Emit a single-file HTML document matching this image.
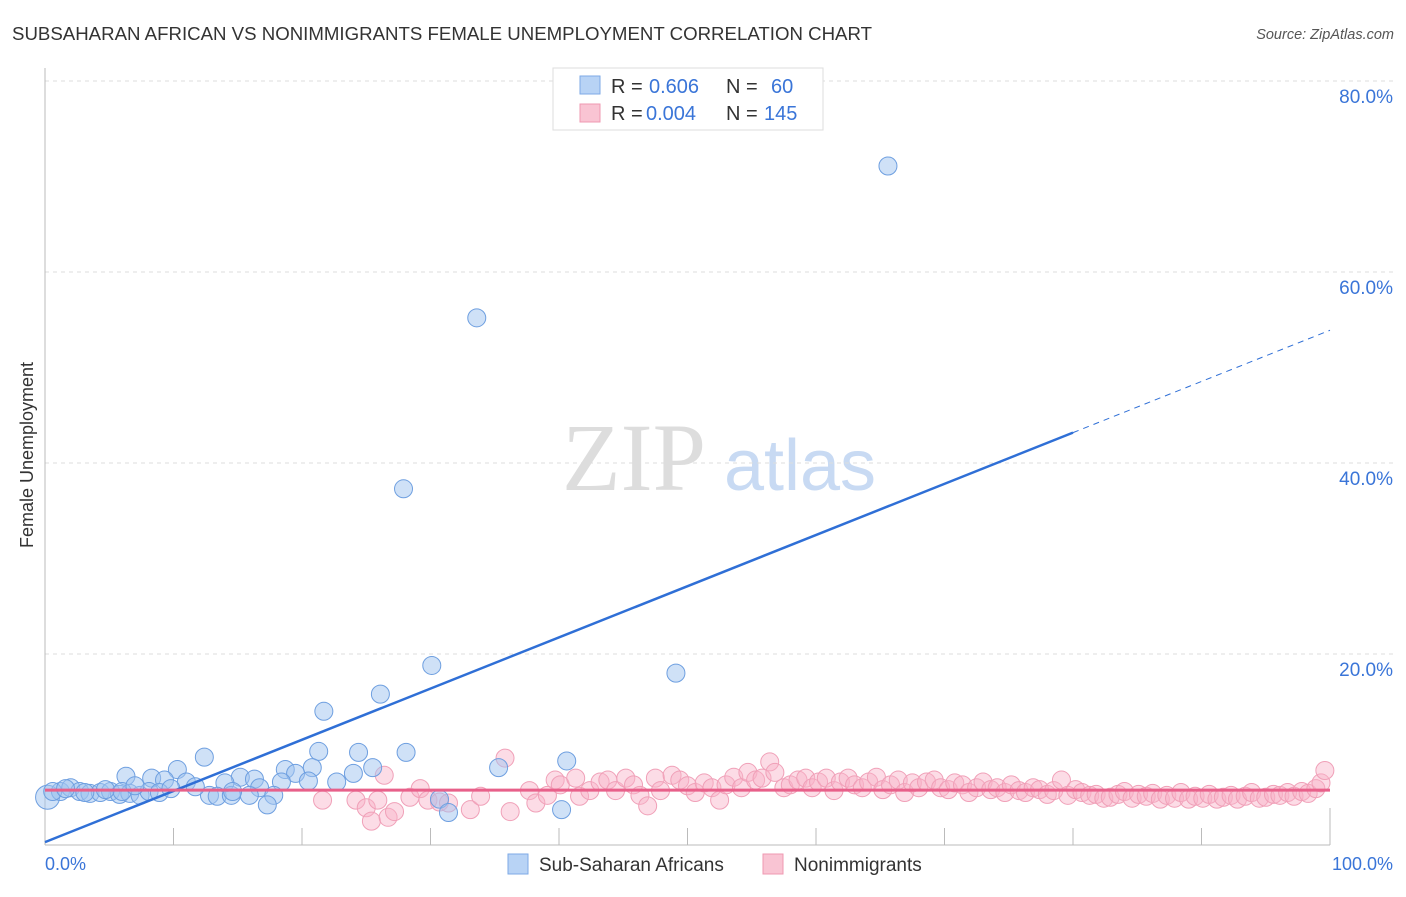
<!DOCTYPE html>
<html><head><meta charset="utf-8"><style>
body{margin:0;background:#fff;font-family:"Liberation Sans",sans-serif;}
svg text{font-family:"Liberation Sans",sans-serif;}
</style></head><body>
<svg width="1406" height="892" viewBox="0 0 1406 892">
<text x="12" y="40" font-size="18" fill="#333" textLength="860" lengthAdjust="spacingAndGlyphs">SUBSAHARAN AFRICAN VS NONIMMIGRANTS FEMALE UNEMPLOYMENT CORRELATION CHART</text>
<text x="1394" y="39" font-size="14.5" fill="#555" font-style="italic" text-anchor="end">Source: ZipAtlas.com</text>
<g>
<text x="634" y="490" font-size="96" fill="#ddd" text-anchor="middle" font-family="Liberation Serif" style="font-family:'Liberation Serif',serif">ZIP</text>
<text x="800" y="490" font-size="72" fill="#c8daf3" text-anchor="middle">atlas</text>
</g>
<g id="grid"></g>
<g id="axes"></g>
<g id="pink"></g>
<g id="blue"></g>
<g id="lines"></g>
<text x="33" y="455" font-size="18" fill="#333" text-anchor="middle" transform="rotate(-90 33 455)">Female Unemployment</text>
<text x="45" y="870" font-size="18" fill="#3a75d8">0.0%</text>
<text x="1393" y="870" font-size="18" fill="#3a75d8" text-anchor="end">100.0%</text>
<g>
<rect x="553" y="68" width="270" height="62" fill="#fff" stroke="#ddd"/>
<rect x="580" y="76" width="20" height="18" fill="#b8d3f5" stroke="#7eaae6"/>
<text x="611" y="93" font-size="20" fill="#333">R =</text>
<text x="649" y="93" font-size="20" fill="#3a75d8">0.606</text>
<text x="726" y="93" font-size="20" fill="#333">N =</text>
<text x="771" y="93" font-size="20" fill="#3a75d8">60</text>
<rect x="580" y="104" width="20" height="18" fill="#f9c4d3" stroke="#ef98b2"/>
<text x="611" y="120" font-size="20" fill="#333">R =</text>
<text x="646" y="120" font-size="20" fill="#3a75d8">0.004</text>
<text x="726" y="120" font-size="20" fill="#333">N =</text>
<text x="764" y="120" font-size="20" fill="#3a75d8">145</text>
</g>
<g>
<rect x="508" y="854" width="20" height="20" fill="#b8d3f5" stroke="#7eaae6"/>
<text x="539" y="871" font-size="19" fill="#333">Sub-Saharan Africans</text>
<rect x="763" y="854" width="20" height="20" fill="#f9c4d3" stroke="#ef98b2"/>
<text x="794" y="871" font-size="19" fill="#333">Nonimmigrants</text>
</g>
</svg>
<script>
const yTicks=[20,40,60,80];
const yTickLabels=["20.0%","40.0%","60.0%","80.0%"];
const blueX=[65.6,33.6,27.9,30.1,49.1,26.1,21.7,12.4,21.3,24.4,28.1,40.6,35.3,25.5,20.8,10.3,6.3,18.7,19.5,24.0,15.2,16.3,22.7,8.3,9.3,11.0,14.0,18.4,20.5,16.7,0.2,1.2,2.0,2.7,3.5,4.3,5.1,5.8,6.6,7.4,8.1,8.9,12.8,13.4,14.5,15.9,17.8,17.3,30.7,31.4,40.2,11.7,0.6,1.6,3.1,4.7,6.0,7.0,9.8,14.6];
const blueY=[71.1,55.2,37.3,18.8,18.0,15.8,14.0,9.2,9.8,9.7,9.7,8.8,8.1,8.1,8.1,7.9,7.2,7.9,7.5,7.5,7.1,6.9,6.6,7.0,6.8,6.6,6.5,6.6,6.7,6.0,5.0,5.6,6.0,5.6,5.4,5.5,5.6,5.3,5.4,5.2,5.6,5.5,5.2,5.1,5.2,5.2,5.2,4.2,4.8,3.4,3.7,6.1,5.6,5.9,5.5,5.8,5.6,6.2,5.9,5.6];
const pinkX=[21.6,24.2,25.0,25.4,25.9,26.4,26.7,27.2,28.4,29.2,29.8,30.7,31.4,33.1,33.9,35.8,36.2,37.7,38.2,39.1,39.7,40.1,41.3,41.6,42.4,43.2,43.8,44.4,45.2,45.8,46.3,46.9,47.5,47.9,48.8,49.4,50.0,50.6,51.3,51.9,52.5,53.0,53.6,54.2,54.7,55.3,55.8,56.4,56.8,57.5,58.0,58.6,59.2,59.7,60.2,60.8,61.4,61.9,62.5,63.0,63.6,64.1,64.7,65.2,65.8,66.4,66.9,67.5,68.0,68.6,69.2,69.7,70.3,70.8,71.4,71.9,72.5,73.0,73.6,74.1,74.7,75.2,75.8,76.3,76.9,77.4,78.0,78.5,79.1,79.6,80.2,80.7,81.3,81.8,82.4,82.9,83.5,84.0,84.6,85.1,85.7,86.2,86.8,87.3,87.9,88.4,89.0,89.5,90.1,90.6,91.2,91.7,92.3,92.8,93.4,93.9,94.5,95.0,95.6,96.1,96.7,97.2,97.8,98.3,98.9,99.3,99.6];
const pinkY=[4.7,4.7,3.9,2.5,4.7,7.3,2.9,3.5,5.0,5.9,4.7,4.5,4.4,3.7,5.1,9.1,3.5,5.7,4.4,5.2,6.8,6.3,7.0,5.1,5.7,6.6,6.8,5.7,7.0,6.3,5.2,4.1,7.0,5.7,7.3,6.8,6.2,5.5,6.5,6.0,4.7,6.3,7.1,6.0,7.6,6.8,7.0,8.7,7.6,6.0,6.3,6.8,7.0,6.0,6.6,7.0,5.7,6.6,7.0,6.3,6.0,6.6,7.1,5.8,6.3,6.8,5.5,6.5,6.0,6.6,6.8,6.0,5.8,6.5,6.3,5.5,6.0,6.6,5.8,6.0,5.5,6.3,5.7,5.5,6.0,5.8,5.3,5.7,6.8,5.2,5.8,5.5,5.2,5.3,4.9,5.0,5.3,5.6,4.9,5.3,5.1,5.4,4.8,5.2,4.9,5.5,4.8,5.1,4.9,5.3,4.8,5.0,5.2,4.8,5.1,5.5,4.9,5.0,5.3,5.2,5.5,5.1,5.6,5.4,5.9,6.5,7.8];
const blueFit=[0.3,53.9];
const pinkFit=[5.75,5.75];
const NS="http://www.w3.org/2000/svg";
const X0=45,X1=1330,Y0=845,Y80=81;
const sx=v=>X0+(X1-X0)*v/100;
const sy=v=>Y0-(Y0-Y80)*v/80;
function mk(tag,attrs,parent){const e=document.createElementNS(NS,tag);for(const k in attrs)e.setAttribute(k,attrs[k]);parent.appendChild(e);return e;}
const grid=document.getElementById('grid');
yTicks.forEach((t,i)=>{
 const l=mk('line',{x1:X0,x2:1393,y1:sy(t),y2:sy(t),stroke:'#ddd','stroke-dasharray':'4,4'},grid);
 
 
 const tx=mk('text',{x:1393,y:sy(t)+22,'font-size':19,fill:'#3a75d8','text-anchor':'end'},grid);
 tx.textContent=yTickLabels[i];
 
 
});
const axes=document.getElementById('axes');
const ya=mk('line',{x1:X0,x2:X0,y1:68,y2:Y0,stroke:'#bbb'},axes);


const xa=mk('line',{x1:X0,x2:X1,y1:Y0,y2:Y0,stroke:'#bbb'},axes);


for(let i=1;i<=10;i++){
 const t=mk('line',{x1:sx(i*10),x2:sx(i*10),y1:Y0,y2:i==10?808:828,stroke:'#bbb'},axes);
 
 
}
const pg=document.getElementById('pink');
pinkX.forEach((x,i)=>{
 const c=mk('circle',{cx:sx(x),cy:sy(pinkY[i]),r:9,fill:'rgba(248,178,200,0.45)',stroke:'#f0a0b8','stroke-width':1},pg);
 
 
});
const bg=document.getElementById('blue');
blueX.forEach((x,i)=>{
 const c=mk('circle',{cx:sx(x),cy:sy(blueY[i]),r:i==30?12:9,fill:'rgba(160,196,240,0.5)',stroke:'#6e9fe0','stroke-width':1},bg);
 
 
});
const lg=document.getElementById('lines');
const by=x=>blueFit[0]+(blueFit[1]-blueFit[0])*x/100;
const bl=mk('line',{x1:sx(0),y1:sy(by(0)),x2:sx(80),y2:sy(by(80)),stroke:'#2f6fd6','stroke-width':2.5},lg);


const bd=mk('line',{x1:sx(80),y1:sy(by(80)),x2:sx(100),y2:sy(by(100)),stroke:'#2f6fd6','stroke-width':1,'stroke-dasharray':'6,5'},lg);


const pl=mk('line',{x1:sx(0),y1:sy(pinkFit[0]),x2:sx(100),y2:sy(pinkFit[1]),stroke:'#e8608a','stroke-width':3},lg);


</script>
</body></html>
